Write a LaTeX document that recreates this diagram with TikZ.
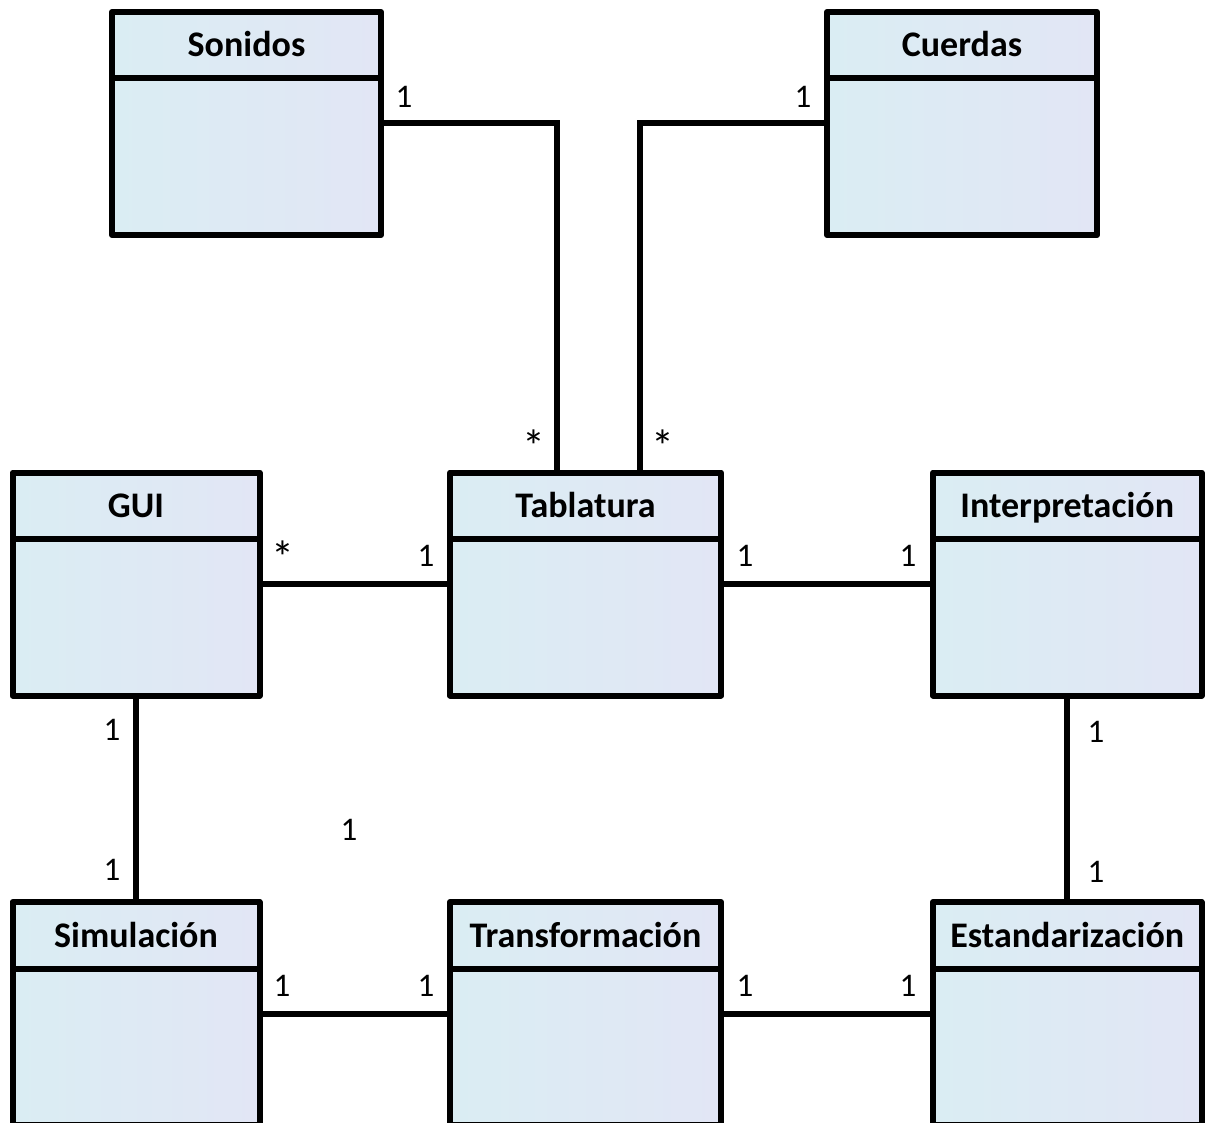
\documentclass[tikz,border=0pt]{standalone}
\usepackage{fontspec}
\setmainfont{Carlito}
\usetikzlibrary{calc}

\definecolor{boxleft}{RGB}{218,237,243}
\definecolor{boxright}{RGB}{226,230,245}

\tikzset{
  cls/.style={draw=black, line width=6pt, line join=round, rectangle,
    left color=boxleft, right color=boxright, inner sep=0pt, outer sep=0pt,
    anchor=north west, minimum height=223pt},
  clstitle/.style={anchor=base, inner sep=0pt, font=\fontsize{36}{42}\selectfont\bfseries},
  mult/.style={anchor=base, inner sep=0pt, font=\fontsize{33}{39}\selectfont},
  many/.style={anchor=base, inner sep=0pt, font=\fontsize{46}{52}\selectfont},
  conn/.style={draw=black, line width=6pt},
  sep/.style={draw=black, line width=6pt}
}

% class box: name, top-left x, top-left y, width, title
\newcommand{\umlclass}[5]{%
  \node[cls, minimum width=#4pt] (#1) at (#2,#3) {};
  \draw[sep] ([yshift=-66.5pt]#1.north west) -- ([yshift=-66.5pt]#1.north east);
  \node[clstitle] (#1-t) at ([yshift=-45pt]#1.north) {#5};
}

\begin{document}
\begin{tikzpicture}[x=1pt,y=-1pt]
\useasboundingbox (0,0) rectangle (1208,1123);
\clip (0,0) rectangle (1208,1123);
\fill[white] (0,0) rectangle (1208,1123);

\umlclass{son}{112}{12}{269}{Sonidos}
\umlclass{cue}{827}{12}{270}{Cuerdas}
\umlclass{gui}{12.5}{472.5}{247}{GUI}
\umlclass{tab}{450}{472.5}{271}{Tablatura}
\umlclass{int}{933}{472.5}{268.5}{Interpretación}
\umlclass{sim}{12.5}{902}{247}{Simulación}
\umlclass{tra}{450}{902}{271}{Transformación}
\umlclass{est}{933}{902}{268.5}{Estandarización}

% associations
\draw[conn] (son.east) -| ([xshift=-28.5pt]tab.north);
\draw[conn] (cue.west) -| ([xshift=54.5pt]tab.north);
\draw[conn] (gui.east) -- (tab.west);
\draw[conn] (tab.east) -- (int.west);
\draw[conn] (gui.south) -- (sim.north);
\draw[conn] (int.south) -- (est.north);
\draw[conn] (sim.east) -- (tra.west);
\draw[conn] (tra.east) -- (est.west);

% multiplicities
\node[mult] (m1) at (404,108) {1};
\node[mult] (m2) at (803,108) {1};
\node[many] (m3) at (533.5,462) {*};
\node[many] (m4) at (663,462) {*};
\node[many] (m5) at (283,573) {*};
\node[mult] (m6) at (426,566) {1};
\node[mult] (m7) at (745,566) {1};
\node[mult] (m8) at (908,566) {1};
\node[mult] (m9) at (112,740) {1};
\node[mult] (m10) at (1096,742) {1};
\node[mult] (m11) at (349,840) {1};
\node[mult] (m12) at (112,880) {1};
\node[mult] (m13) at (1096,882) {1};
\node[mult] (m14) at (282,996) {1};
\node[mult] (m15) at (426,996) {1};
\node[mult] (m16) at (745,996) {1};
\node[mult] (m17) at (908,996) {1};
\end{tikzpicture}
\end{document}
